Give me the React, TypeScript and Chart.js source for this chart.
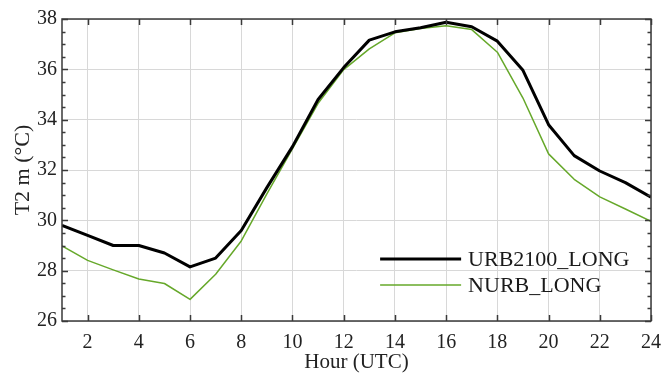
import React, { useEffect, useRef } from "react";
import { Chart, registerables } from "chart.js";

Chart.register(...registerables);

const hours = [1, 2, 3, 4, 5, 6, 7, 8, 9, 10, 11, 12, 13, 14, 15, 16, 17, 18, 19, 20, 21, 22, 23, 24];
const urb2100Long = [29.8, 29.4, 29.0, 29.0, 28.7, 28.15, 28.5, 29.6, 31.3, 32.93, 34.8, 36.07, 37.16, 37.49, 37.65, 37.87, 37.69, 37.12, 35.96, 33.8, 32.57, 31.96, 31.5, 30.92];
const nurbLong = [28.98, 28.41, 28.03, 27.67, 27.49, 26.86, 27.86, 29.18, 31.05, 32.85, 34.65, 35.99, 36.81, 37.45, 37.62, 37.73, 37.58, 36.68, 34.86, 32.64, 31.63, 30.93, 30.45, 29.96];
const xTicks = [2, 4, 6, 8, 10, 12, 14, 16, 18, 20, 22, 24];
const yTicks = [26, 28, 30, 32, 34, 36, 38];
const yMinorStep = 0.5;
const seriesNames = ["URB2100_LONG", "NURB_LONG"];
const seriesColors = ["#000000", "#66a82a"];
const seriesWidths = [3, 1.5];

const FONT = "'Liberation Serif', 'Times New Roman', serif";

const framePlugin = {
  id: "frameTicksLegend",
  afterDatasetsDraw(chart: any) {
    const { ctx, chartArea } = chart;
    const xs = chart.scales.x;
    const ys = chart.scales.y;
    const { left, right, top, bottom } = chartArea;
    ctx.save();
    ctx.strokeStyle = "#3a3a3a";
    ctx.lineWidth = 1.5;
    ctx.beginPath();
    for (const v of xTicks) {
      const px = Math.round(xs.getPixelForValue(v)) + 0.5;
      ctx.moveTo(px, bottom);
      ctx.lineTo(px, bottom - 6);
      ctx.moveTo(px, top);
      ctx.lineTo(px, top + 6);
    }
    const ymin = yTicks[0];
    const ymax = yTicks[yTicks.length - 1];
    for (let v = ymin; v <= ymax + 1e-9; v += yMinorStep) {
      const major = yTicks.some((t) => Math.abs(t - v) < 1e-6);
      const len = major ? 6 : 3.5;
      const py = Math.round(ys.getPixelForValue(v)) + 0.5;
      ctx.moveTo(left, py);
      ctx.lineTo(left + len, py);
      ctx.moveTo(right, py);
      ctx.lineTo(right - len, py);
    }
    ctx.stroke();
    ctx.strokeRect(left, top, right - left, bottom - top);

    // legend inside plot (lower right)
    const lx0 = left + (right - left) * 0.535 + 3;
    const lx1 = lx0 + 81;
    const ly0 = bottom - 62;
    const lgap = 26;
    ctx.font = `22px ${FONT}`;
    ctx.textBaseline = "middle";
    ctx.textAlign = "left";
    seriesNames.forEach((name, i) => {
      const y = ly0 + i * lgap;
      ctx.beginPath();
      ctx.strokeStyle = seriesColors[i];
      ctx.lineWidth = seriesWidths[i];
      ctx.moveTo(lx0, y);
      ctx.lineTo(lx1, y);
      ctx.stroke();
      ctx.fillStyle = "#1a1a1a";
      ctx.fillText(name, lx1 + 7, y + 1);
    });
    ctx.restore();
  },
};

export default function App() {
  const ref = useRef<HTMLCanvasElement | null>(null);
  useEffect(() => {
    if (!ref.current) return;
    const chart = new Chart(ref.current, {
      type: "line",
      data: {
        labels: hours,
        datasets: [
          {
            label: seriesNames[0],
            data: hours.map((h, i) => ({ x: h, y: urb2100Long[i] })),
            borderColor: seriesColors[0],
            borderWidth: seriesWidths[0],
            pointRadius: 0,
            tension: 0,
            borderJoinStyle: "round",
          },
          {
            label: seriesNames[1],
            data: hours.map((h, i) => ({ x: h, y: nurbLong[i] })),
            borderColor: seriesColors[1],
            borderWidth: seriesWidths[1],
            pointRadius: 0,
            tension: 0,
            borderJoinStyle: "round",
          },
        ],
      },
      options: {
        animation: false,
        responsive: false,
        devicePixelRatio: 1,
        layout: { padding: { top: 19, right: 13, left: 0, bottom: 0 } },
        plugins: { legend: { display: false }, tooltip: { enabled: false } },
        scales: {
          x: {
            type: "linear",
            min: 1,
            max: 24,
            afterBuildTicks: (scale: any) => {
              scale.ticks = xTicks.map((v) => ({ value: v }));
            },
            afterFit: (scale: any) => {
              scale.height = 52;
            },
            grid: { color: "#d8d8d8", lineWidth: 1, drawTicks: false },
            border: { display: false },
            ticks: {
              autoSkip: false,
              maxRotation: 0,
              padding: 10,
              color: "#222",
              font: { family: FONT, size: 20 },
            },
            title: {
              display: true,
              text: "Hour (UTC)",
              color: "#222",
              font: { family: FONT, size: 21 },
              padding: { top: 0, bottom: -2 },
            },
          },
          y: {
            min: 26,
            max: 38,
            afterBuildTicks: (scale: any) => {
              scale.ticks = yTicks.map((v) => ({ value: v }));
            },
            afterFit: (scale: any) => {
              scale.width = 62;
            },
            grid: { color: "#d8d8d8", lineWidth: 1, drawTicks: false },
            border: { display: false },
            ticks: {
              padding: 5,
              color: "#222",
              font: { family: FONT, size: 20 },
            },
            title: {
              display: true,
              text: "T2 m (°C)",
              color: "#222",
              font: { family: FONT, size: 22 },
              padding: { top: 10, bottom: 0 },
            },
          },
        },
      },
      plugins: [framePlugin],
    } as any);
    return () => chart.destroy();
  }, []);
  return (
    <div style={{ position: "fixed", left: 0, top: 0, width: 671, height: 373, background: "#fff" }}>
      <canvas ref={ref} width={671} height={373} style={{ width: 671, height: 373, display: "block" }} />
    </div>
  );
}
